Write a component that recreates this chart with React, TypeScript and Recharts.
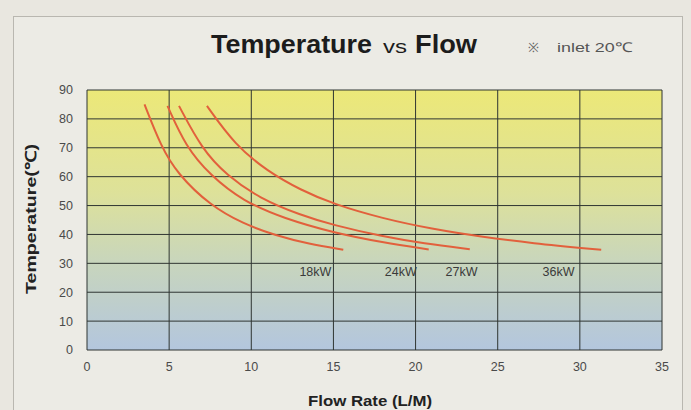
import { LineChart, Line, XAxis, YAxis, CartesianGrid, ReferenceDot } from 'recharts';

// flow rate (L/min) vs outlet temperature (°C)
const flow18 = [3.5, 4.5, 5.5, 7.5, 9.5, 11.5, 13.5, 15.6];
const temp18 = [85, 70.5, 61, 50, 43.7, 39.6, 36.7, 34.7];

const flow24 = [4.9, 6.0, 7.5, 9.5, 12.0, 15.0, 18.0, 20.8];
const temp24 = [84.5, 70.5, 60.5, 51.5, 45.5, 40.6, 37.2, 34.8];

const flow27 = [5.6, 7.0, 8.5, 10.5, 13.0, 15.0, 18.0, 20.5, 23.3];
const temp27 = [84.5, 69.5, 60.5, 52.5, 46.7, 43.2, 39.3, 36.9, 34.9];

const flow36 = [7.3, 9.0, 11.0, 13.0, 15.0, 18.0, 21.0, 24.0, 27.0, 31.3];
const temp36 = [84.5, 71, 61.8, 55.4, 50.5, 45.5, 41.9, 39.2, 37.0, 34.7];

const seriesNames = ['18kW', '24kW', '27kW', '36kW'];
const labelFlow = [13.9, 19.1, 22.8, 28.7];
const labelTemp = [27, 27, 27, 27];

const xTicks = [0, 5, 10, 15, 20, 25, 30, 35];
const yTicks = [0, 10, 20, 30, 40, 50, 60, 70, 80, 90];

const toPoints = (xs: number[], ys: number[]) => xs.map((x, i) => ({ flow: x, temp: ys[i] }));

const series = [
  toPoints(flow18, temp18),
  toPoints(flow24, temp24),
  toPoints(flow27, temp27),
  toPoints(flow36, temp36),
];

const font = '"Liberation Sans", Arial, sans-serif';

export default function App() {
  return (
    <div
      style={{
        position: 'absolute',
        left: 0,
        top: 0,
        width: 691,
        height: 410,
        background: '#e9e7e0',
        fontFamily: font,
        overflow: 'hidden',
      }}
    >
      <div
        style={{
          position: 'absolute',
          left: 13,
          top: 16,
          width: 668,
          height: 400,
          border: '1px solid #b9b7b0',
          background: '#ecebe5',
        }}
      />
      <div style={{ position: 'absolute', left: 0, top: 0 }}>
        <LineChart width={691} height={410} margin={{ top: 90, right: 29, left: 27, bottom: 30 }}>
          <defs>
            <linearGradient id="bgGrad" x1="0" y1="0" x2="0" y2="1">
              <stop offset="0%" stopColor="#ece878" />
              <stop offset="40%" stopColor="#dde19a" />
              <stop offset="65%" stopColor="#c9d6bb" />
              <stop offset="100%" stopColor="#b3c6de" />
            </linearGradient>
          </defs>
          <CartesianGrid
            stroke="#2f3532"
            strokeWidth={1}
            fill="url(#bgGrad)"
            fillOpacity={1}
            horizontalValues={yTicks}
            verticalValues={xTicks}
          />
          <XAxis
            type="number"
            dataKey="flow"
            domain={[0, 35]}
            ticks={xTicks}
            axisLine={false}
            tickLine={false}
            tickSize={0}
            tickMargin={12}
            height={30}
            tick={{ fill: '#4a4a4a', fontSize: 12.5, fontFamily: font }}
            allowDataOverflow
          />
          <YAxis
            type="number"
            dataKey="temp"
            domain={[0, 90]}
            ticks={yTicks}
            axisLine={false}
            tickLine={false}
            tickSize={0}
            tickMargin={14}
            width={60}
            tick={{ fill: '#4a4a4a', fontSize: 12.5, fontFamily: font }}
          />
          {series.map((pts, i) => (
            <Line
              key={seriesNames[i]}
              data={pts}
              dataKey="temp"
              type="basis"
              stroke="#e2603c"
              strokeWidth={2}
              dot={false}
              activeDot={false}
              isAnimationActive={false}
            />
          ))}
          {seriesNames.map((name, i) => (
            <ReferenceDot
              key={name}
              x={labelFlow[i]}
              y={labelTemp[i]}
              r={0}
              fill="none"
              stroke="none"
              label={{ value: name, position: 'center', fill: '#3a3a3a', fontSize: 12.5, fontFamily: font }}
            />
          ))}
        </LineChart>
      </div>
      <svg
        width={691}
        height={410}
        style={{ position: 'absolute', left: 0, top: 0, pointerEvents: 'none' }}
        fontFamily={font}
      >
        <text x={211} y={53} fontSize={25} fontWeight="bold" fill="#1c1c1c" textLength={161} lengthAdjust="spacingAndGlyphs">
          Temperature
        </text>
        <text x={383} y={53} fontSize={18} fill="#1c1c1c" textLength={24} lengthAdjust="spacingAndGlyphs">
          vs
        </text>
        <text x={415} y={53} fontSize={25} fontWeight="bold" fill="#1c1c1c" textLength={62} lengthAdjust="spacingAndGlyphs">
          Flow
        </text>
        <text x={528} y={52} fontSize={13} fill="#666">
          ※
        </text>
        <text x={557} y={52} fontSize={13.5} fill="#555" textLength={75} lengthAdjust="spacingAndGlyphs">
          inlet 20℃
        </text>
        <text
          x={0}
          y={0}
          transform="translate(36 219) rotate(-90)"
          textAnchor="middle"
          fontSize={15}
          fontWeight="bold"
          fill="#222"
          textLength={150}
          lengthAdjust="spacingAndGlyphs"
        >
          Temperature(℃)
        </text>
        <text
          x={370}
          y={406}
          textAnchor="middle"
          fontSize={15}
          fontWeight="bold"
          fill="#222"
          textLength={124}
          lengthAdjust="spacingAndGlyphs"
        >
          Flow Rate (L/M)
        </text>
      </svg>
    </div>
  );
}
